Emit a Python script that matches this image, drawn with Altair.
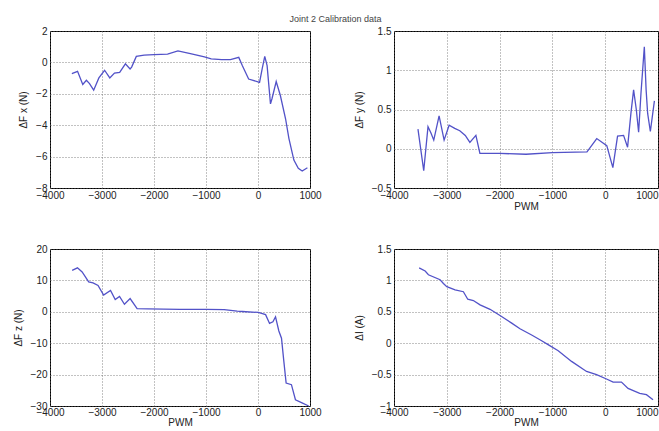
import altair as alt
import pandas as pd

TITLE = "Joint 2 Calibration data"
X_TICKS = [-4000, -3000, -2000, -1000, 0, 1000]

# Panel 1: delta Fx (N)
fx_pwm = [-3580, -3470, -3370, -3300, -3240, -3160, -3060, -2950, -2850, -2760, -2660,
          -2550, -2460, -2430, -2340, -2190, -2000, -1740, -1540, -1300, -1030, -900,
          -700, -530, -370, -300, -180, 30, 80, 130, 175, 240, 270, 350, 430, 530, 595,
          690, 775, 850, 950]
fx_val = [-0.72, -0.57, -1.41, -1.14, -1.35, -1.77, -0.99, -0.5, -0.99, -0.68, -0.63,
          -0.09, -0.42, -0.3, 0.38, 0.46, 0.49, 0.53, 0.73, 0.56, 0.35, 0.22,
          0.18, 0.18, 0.32, -0.21, -1.06, -1.27, -0.42, 0.38, -0.21, -2.64, -2.3, -1.22,
          -2.11, -3.59, -4.85, -6.22, -6.75, -6.92, -6.71]

# Panel 2: delta Fy (N)
fy_pwm = [-3546, -3437, -3356, -3300, -3247, -3146, -3051, -2956, -2850, -2754, -2650,
          -2563, -2449, -2373, -2000, -1500, -1000, -345, -160, 30, 145, 234, 348, 424,
          487, 538, 589, 633, 677, 741, 775, 804, 855, 932]
fy_val = [0.25, -0.28, 0.28, 0.2, 0.11, 0.42, 0.11, 0.3, 0.26, 0.23, 0.17,
          0.08, 0.17, -0.06, -0.06, -0.07, -0.05, -0.04, 0.13, 0.04, -0.24, 0.16, 0.17, 0.02,
          0.45, 0.75, 0.5, 0.21, 0.7, 1.3, 0.75, 0.45, 0.22, 0.61]

# Panel 3: delta Fz (N)
fz_pwm = [-3574, -3472, -3382, -3256, -3172, -3076, -2969, -2836, -2746, -2663, -2568,
          -2459, -2325, -2120, -1500, -1000, -650, -400, -300, 6, 146, 222, 287, 337,
          401, 452, 497, 541, 643, 720, 847, 975]
fz_val = [13.2, 14.0, 12.7, 9.5, 9.2, 8.4, 5.3, 6.8, 3.9, 4.9, 2.4,
          4.2, 1.0, 0.9, 0.8, 0.8, 0.7, 0.2, 0.1, -0.2, -0.9, -3.7, -3.2, -1.6,
          -6.1, -8.4, -15.8, -22.7, -23.2, -28.0, -29.0, -30.0]

# Panel 4: delta I (A)
di_pwm = [-3524, -3410, -3348, -3127, -3064, -3000, -2843, -2686, -2603, -2497, -2370,
          -2181, -1992, -1771, -1614, -1393, -1204, -1066, -890, -637, -353, -164, 25,
          150, 308, 433, 654, 781, 906]
di_val = [1.2, 1.15, 1.09, 1.01, 0.95, 0.9, 0.85, 0.82, 0.7, 0.68, 0.61,
          0.54, 0.44, 0.32, 0.23, 0.13, 0.04, -0.03, -0.12, -0.29, -0.45, -0.5, -0.57,
          -0.62, -0.62, -0.72, -0.8, -0.82, -0.9]

LINE = "#5252c8"
FONT = "Liberation Sans"


def panel(pwm, val, ytitle, ydomain, yticks, xtitle, width, right_col, bottom_row):
    df = pd.DataFrame({"pwm": pwm, "val": val})
    xkw = dict(values=X_TICKS, format="d", grid=True, ticks=False, domain=False,
               labelFlush=False,
               labelPadding=1 if bottom_row else 2,
               titlePadding=0 if bottom_row else 1)
    if right_col:
        xkw["labelAlign"] = {"condition": {"test": "datum.value == 1000", "value": "right"},
                             "value": "center"}
    if xtitle:
        xkw["title"] = xtitle
    else:
        xkw["title"] = None
    ykw = dict(values=yticks, format="~r", grid=True, ticks=False, domain=False,
               labelPadding=3, titlePadding=7, title=ytitle)
    return alt.Chart(df).mark_line(color=LINE, strokeWidth=1.3).encode(
        x=alt.X("pwm:Q", scale=alt.Scale(domain=[-4000, 1000], nice=False),
                axis=alt.Axis(**xkw)),
        y=alt.Y("val:Q", scale=alt.Scale(domain=ydomain, nice=False),
                axis=alt.Axis(**ykw)),
    ).properties(width=width, height=157)


p1 = panel(fx_pwm, fx_val, "ΔF x (N)", [-8, 2], [-8, -6, -4, -2, 0, 2], "", 260, False, False)
p2 = panel(fy_pwm, fy_val, "ΔF y (N)", [-0.5, 1.5], [-0.5, 0, 0.5, 1, 1.5], "PWM", 264, True, False)
p3 = panel(fz_pwm, fz_val, "ΔF z (N)", [-30, 20], [-30, -20, -10, 0, 10, 20], "PWM", 260, False, True)
p4 = panel(di_pwm, di_val, "ΔI (A)", [-1, 1.5], [-1, -0.5, 0, 0.5, 1, 1.5], "PWM", 264, True, True)

chart = alt.concat(p1, p2, p3, p4, columns=2, spacing={"row": 31, "column": 31}).properties(
    title=alt.TitleParams(TITLE, anchor="middle", fontSize=9, offset=2),
    padding={"left": 12, "top": 14, "right": 0, "bottom": 0},
).configure_view(
    stroke="#000", strokeWidth=1
).configure_axis(
    gridColor="#666", gridDash=[1, 2], gridWidth=0.8, gridOpacity=1,
    labelFont=FONT, labelFontSize=10, labelColor="#222",
    titleFont=FONT, titleFontSize=10, titleColor="#222", titleFontWeight="normal",
).configure_title(
    font=FONT, color="#444", fontWeight="normal"
)

chart.save("out.html", embed_options={"renderer": "svg", "actions": False})
